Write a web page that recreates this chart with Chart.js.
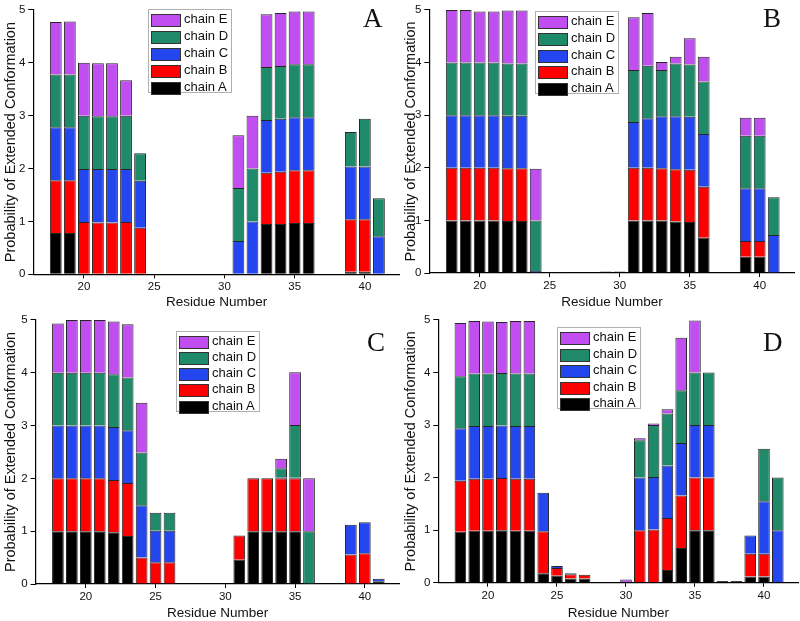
<!DOCTYPE html>
<html lang="en">
<head>
<meta charset="UTF-8">
<script src="https://cdn.jsdelivr.net/npm/chart.js"></script>
<style>
  body { margin: 0; background: #fff; font-family: "Liberation Sans", Arial, sans-serif; }
  #wrap { position: relative; width: 800px; height: 621px; }
  canvas { position: absolute; }
  .legend { position: absolute; border: 1px solid #b0b0b0; background: #fff; box-sizing: border-box; }
  .row { position: absolute; left: 2px; height: 14px; font-size: 13px; color: #111; white-space: nowrap; }
  .sw { position: absolute; left: 0; top: 1px; width: 28px; height: 11px; border: 1px solid #333; }
  .row span { position: absolute; left: 33px; top: -2px; }
  .letter { position: absolute; font-family: "Liberation Serif", "Times New Roman", serif; font-size: 27px; line-height: 27px; color: #111; }
</style>
</head>
<body>
<div id="wrap">
  <canvas id="pA" width="400" height="310" style="left:0;top:0"></canvas>
  <canvas id="pB" width="400" height="310" style="left:400px;top:0"></canvas>
  <canvas id="pC" width="400" height="311" style="left:0;top:310px"></canvas>
  <canvas id="pD" width="400" height="311" style="left:400px;top:310px"></canvas>
</div>
<script>
    // residues 18..41
    const residues = [18, 19, 20, 21, 22, 23, 24, 25, 26, 27, 28, 29, 30, 31, 32, 33, 34, 35, 36, 37, 38, 39, 40, 41]
    const xTicks = [20, 25, 30, 35, 40]
    const yTicks = [0, 1, 2, 3, 4, 5]
    const chainLabels = ['chain A', 'chain B', 'chain C', 'chain D', 'chain E']
    const chainColors = ['#000000', '#fe0000', '#2446ee', '#1f8a6a', '#c04ef0']

    // panel A
    const A_chainA = [0.78, 0.78, 0, 0, 0, 0, 0, 0, 0, 0, 0, 0, 0, 0, 0, 0.95, 0.95, 0.97, 0.97, 0.01, 0.01, 0.05, 0.05, 0]
    const A_chainB = [1.0, 1.0, 0.99, 0.98, 0.98, 0.99, 0.88, 0, 0, 0, 0, 0, 0, 0, 0, 0.97, 0.99, 1.0, 1.0, 0, 0, 0.99, 0.99, 0]
    const A_chainC = [1.0, 1.0, 1.0, 1.01, 1.01, 1.0, 0.89, 0, 0, 0, 0, 0, 0, 0.63, 1.0, 1.0, 1.0, 1.0, 1.0, 0, 0, 1.0, 1.0, 0.72]
    const A_chainD = [1.0, 1.0, 1.01, 1.0, 1.0, 1.01, 0.52, 0, 0, 0, 0, 0, 0, 1.0, 1.0, 1.0, 1.0, 1.0, 1.0, 0, 0, 0.65, 0.9, 0.72]
    const A_chainE = [0.99, 1.0, 1.0, 1.0, 1.0, 0.67, 0, 0, 0, 0, 0, 0, 0, 1.0, 1.0, 1.0, 1.0, 1.0, 1.0, 0, 0, 0, 0, 0]

    // panel B
    const B_chainA = [1, 1, 1, 1, 0.99, 0.99, 0, 0.02, 0.02, 0, 0, 0.03, 0.03, 1, 1, 1, 0.98, 0.97, 0.67, 0, 0, 0.31, 0.31, 0]
    const B_chainB = [1, 1, 1, 1, 1, 1, 0, 0, 0, 0, 0, 0, 0, 1, 1, 0.99, 0.99, 0.99, 0.97, 0, 0, 0.3, 0.3, 0]
    const B_chainC = [1, 1, 1, 1, 1, 1, 0.04, 0, 0, 0, 0, 0, 0, 0.87, 0.94, 0.99, 1.01, 1.01, 1.0, 0, 0, 1.0, 1.0, 0.72]
    const B_chainD = [1, 1, 1, 1, 0.99, 0.99, 0.96, 0, 0, 0, 0, 0, 0, 0.99, 1.0, 0.88, 1.0, 0.99, 1.0, 0, 0, 1.0, 1.0, 0.72]
    const B_chainE = [1, 1, 0.97, 0.97, 1.01, 1.01, 0.98, 0, 0, 0, 0, 0, 0, 1.0, 1.0, 0.15, 0.13, 0.5, 0.47, 0, 0, 0.34, 0.34, 0]

    // panel C
    const C_chainA = [1, 1, 1, 1, 0.98, 0.91, 0, 0, 0, 0, 0, 0, 0, 0.46, 1, 1, 1, 1, 0, 0, 0, 0, 0, 0.05]
    const C_chainB = [1, 1, 1, 1, 0.99, 1.0, 0.5, 0.41, 0.41, 0, 0, 0, 0, 0.46, 1, 1, 1, 1, 0, 0, 0, 0.56, 0.58, 0]
    const C_chainC = [1, 1, 1, 1, 1, 1, 0.99, 0.6, 0.6, 0, 0, 0, 0, 0, 0, 0, 0.02, 0.01, 0, 0, 0, 0.56, 0.59, 0.05]
    const C_chainD = [1, 1, 1, 1, 1, 1, 1.0, 0.34, 0.34, 0, 0, 0, 0, 0, 0, 0, 0.17, 1.0, 1.0, 0, 0, 0, 0, 0]
    const C_chainE = [0.93, 1, 1, 1, 1, 1.01, 0.94, 0, 0, 0, 0, 0, 0, 0, 0, 0, 0.18, 1.0, 1.0, 0, 0, 0, 0, 0]

    // panel D
    const D_chainA = [0.97, 0.99, 0.99, 1, 0.99, 0.99, 0.18, 0.13, 0.08, 0.08, 0, 0, 0, 0, 0, 0.24, 0.66, 1, 1, 0.03, 0.03, 0.12, 0.12, 0]
    const D_chainB = [0.97, 0.99, 0.99, 0.99, 0.99, 0.99, 0.8, 0.15, 0.08, 0.07, 0, 0, 0, 1.0, 1.01, 0.99, 1.0, 1, 1, 0, 0, 0.43, 0.43, 0]
    const D_chainC = [1, 1, 1, 1, 1, 1, 0.73, 0.04, 0.02, 0, 0, 0, 0, 1.0, 1.0, 1.0, 1.0, 1, 1, 0, 0, 0.35, 1.0, 1.0]
    const D_chainD = [0.99, 1, 1, 1, 1, 1, 0, 0, 0, 0, 0, 0, 0, 0.71, 0.99, 0.99, 1.0, 1, 1, 0, 0, 0, 1.0, 1.0]
    const D_chainE = [1.01, 1, 0.99, 0.97, 1, 1, 0, 0, 0, 0, 0, 0, 0.06, 0.04, 0.03, 0.08, 1.0, 0.99, 0, 0, 0, 0, 0, 0]

    // where each panel sits (yw = y axis box width, xh = x axis box height)
    const panels = [
        { id: 'pA', letter: 'A', series: [A_chainA, A_chainB, A_chainC, A_chainD, A_chainE],
          yw: 33.3, xh: 35.7, top: 8.3, right: 0, leg: [148, 9, 84, 84], let: [363, 5.4] },
        { id: 'pB', letter: 'B', series: [B_chainA, B_chainB, B_chainC, B_chainD, B_chainE],
          yw: 29.3, xh: 37, top: 8.3, right: 5.3, leg: [535, 11, 84, 83], let: [763, 4.8] },
        { id: 'pC', letter: 'C', series: [C_chainA, C_chainB, C_chainC, C_chainD, C_chainE],
          yw: 35.6, xh: 37, top: 9.3, right: 0.3, leg: [176, 330.7, 84, 81], let: [367, 329.4] },
        { id: 'pD', letter: 'D', series: [D_chainA, D_chainB, D_chainC, D_chainD, D_chainE],
          yw: 38.3, xh: 38.3, top: 7.3, right: 1.5, leg: [557, 327, 84, 82], let: [763, 329.4] }
    ]

    const tickFont = { family: 'Liberation Sans', size: 11.5 }

    function makePanel(p) {
        const ctx = document.getElementById(p.id)
        new Chart(ctx, {
            type: 'bar',
            data: {
                datasets: p.series.map((vals, i) => ({
                    label: chainLabels[i],
                    data: residues.map((r, j) => ({ x: r, y: vals[j] })),
                    backgroundColor: chainColors[i],
                    borderColor: '#262626',
                    borderWidth: 1,
                    barPercentage: 0.84,
                    categoryPercentage: 1
                }))
            },
            options: {
                responsive: false,
                animation: false,
                layout: { padding: { left: 0, right: p.right, top: p.top, bottom: 0 } },
                plugins: { legend: { display: false }, tooltip: { enabled: false } },
                scales: {
                    x: {
                        type: 'linear', stacked: true, min: 16.4, max: 42.5, offset: false,
                        afterBuildTicks: ax => { ax.ticks = xTicks.map(v => ({ value: v })) },
                        afterFit: ax => { ax.height = p.xh },
                        grid: { drawOnChartArea: false, tickLength: 4, color: '#000', offset: false },
                        border: { color: '#000', width: 1.2 },
                        ticks: { color: '#111', font: tickFont, padding: 2, maxRotation: 0 },
                        title: { display: true, text: 'Residue Number', color: '#111',
                                 font: { family: 'Liberation Sans', size: 13.5 }, padding: 0 }
                    },
                    y: {
                        stacked: true, min: 0, max: 5,
                        afterBuildTicks: ax => { ax.ticks = yTicks.map(v => ({ value: v })) },
                        afterFit: ax => { ax.width = p.yw },
                        grid: { drawOnChartArea: false, tickLength: 5, color: '#000' },
                        border: { color: '#000', width: 1.2 },
                        ticks: { color: '#111', font: tickFont, padding: 3 },
                        title: { display: true, text: 'Probability of Extended Conformation', color: '#111',
                                 font: { family: 'Liberation Sans', size: 14.5 }, padding: { top: 2, bottom: 0 } }
                    }
                }
            }
        })

        // legend box, E on top
        const wrap = document.getElementById('wrap')
        const box = document.createElement('div')
        box.className = 'legend'
        box.style.left = p.leg[0] + 'px'
        box.style.top = p.leg[1] + 'px'
        box.style.width = p.leg[2] + 'px'
        box.style.height = p.leg[3] + 'px'
        const step = (p.leg[3] - 16) / 4
        for (let k = 0; k < 5; k++) {
            const i = 4 - k
            const row = document.createElement('div')
            row.className = 'row'
            row.style.top = (3 + k * step) + 'px'
            row.innerHTML = '<div class="sw" style="background:' + chainColors[i] + '"></div><span>' + chainLabels[i] + '</span>'
            box.appendChild(row)
        }
        wrap.appendChild(box)

        const letter = document.createElement('div')
        letter.className = 'letter'
        letter.textContent = p.letter
        letter.style.left = p.let[0] + 'px'
        letter.style.top = p.let[1] + 'px'
        wrap.appendChild(letter)
    }

    panels.forEach(makePanel)
</script>
</body>
</html>
